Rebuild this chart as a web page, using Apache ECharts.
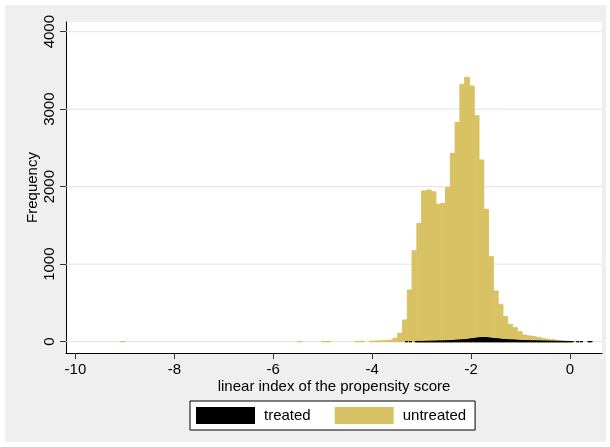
<!DOCTYPE html>
<html><head><meta charset="utf-8">
<script src="https://cdn.jsdelivr.net/npm/echarts@6/dist/echarts.min.js"></script>
<style>html,body{margin:0;padding:0;background:#fff}#c{width:610px;height:447px}</style>
</head><body><div id="c"></div>
<script>
// ---- data ----
const xTicks = [-10, -8, -6, -4, -2, 0];
const yTicks = [0, 1000, 2000, 3000, 4000];
const seriesNames = ['treated', 'untreated'];

// untreated histogram: first bin edge and bin width, counts per bin
const untreatedStart = -9.092;
const untreatedWidth = 0.0967;
const untreatedCounts = [
  3,
  0,0,0,0,0,0,0,0,0,0, 0,0,0,0,0,0,0,0,0,0, 0,0,0,0,0,0,0,0,0,0, 0,0,0,0,0,0,
  3, 0,0,0,0, 3,3, 0,0,0,0,0, 4,5, 0, 6,8,10,13,20,
  44,108,280,667,1174,1527,1945,1957,1935,1773,1785,1992,2430,2830,3321,3411,3299,2916,2345,1708,
  1097,654,482,323,224,181,129,86,74,65,52,38,30,25,15,10,6,3,
  2,0,0,0,0
];

// treated histogram
const treatedStart = -3.32;
const treatedWidth = 0.038;
const treatedCounts = [
  1,0,1,0,0,1,2,1,2,2,
  3,3,4,4,5,5,6,7,7,8,9,10,11,12,13,14,16,17,19,21,23,25,28,31,34,
  37,40,44,47,50,52,54,52,49,46,
  43,40,37,35,32,30,28,26,25,23,22,20,19,18,16,15,
  14,13,12,12,11,10,9,9,8,8,7,7,6,6,5,5,4,4,3,3,3,2,2,2,
  1,1,1,1,0,0,1,0,1,0,0,0,1,1,0
];

// ---- chart ----
const FONT = 'Liberation Sans, Arial, sans-serif';
const YELLOW = '#d8c264';

function binData(start, width, counts) {
  const out = [];
  counts.forEach((c, i) => { if (c > 0) out.push([start + i * width, start + (i + 1) * width, c]); });
  return out;
}

function barRenderer(fill, strokeW) {
  return function (params, api) {
    const p0 = api.coord([api.value(0), api.value(2)]);
    const p1 = api.coord([api.value(1), 0]);
    return {
      type: 'rect',
      shape: { x: p0[0], y: p0[1], width: p1[0] - p0[0], height: p1[1] - p0[1] },
      style: { fill: fill, stroke: fill, lineWidth: strokeW }
    };
  };
}

const chart = echarts.init(document.getElementById('c'), null, { renderer: 'canvas' });
chart.setOption({
  animation: false,
  backgroundColor: '#ffffff',
  textStyle: { fontFamily: FONT },
  graphic: [{
    type: 'rect', z: -10, silent: true,
    shape: { x: 5, y: 5, width: 601, height: 437 },
    style: { fill: '#efefef' }
  }],
  grid: {
    left: 66, top: 22, right: 8, bottom: 94,
    show: true, backgroundColor: '#ffffff', borderWidth: 0
  },
  legend: {
    data: seriesNames,
    left: 190, top: 401,
    itemWidth: 59, itemHeight: 17, itemGap: 24,
    padding: [6, 9, 6, 6],
    backgroundColor: '#ffffff', borderColor: '#000000', borderWidth: 1, borderRadius: 0,
    icon: 'rect',
    textStyle: { fontSize: 15, color: '#000', fontFamily: FONT, padding: [0, 0, 0, 4] }
  },
  xAxis: {
    type: 'value', min: -10.19, max: 0.647,
    name: 'linear index of the propensity score',
    nameLocation: 'middle', nameGap: 26, nameMoveOverlap: false,
    nameTextStyle: { fontSize: 15, color: '#000', fontFamily: FONT },
    axisLine: { show: true, onZero: false, lineStyle: { color: '#000', width: 1 } },
    axisTick: { show: true, length: 6, customValues: xTicks, lineStyle: { color: '#333' } },
    axisLabel: { customValues: xTicks, margin: 9, fontSize: 15, color: '#000', fontFamily: FONT,
      formatter: v => String(v) },
    splitLine: { show: false }
  },
  yAxis: {
    type: 'value', min: -146, max: 4125,
    name: 'Frequency',
    nameLocation: 'middle', nameGap: 26, nameRotate: 90, nameMoveOverlap: false,
    nameTextStyle: { fontSize: 15, color: '#000', fontFamily: FONT },
    axisLine: { show: true, onZero: false, lineStyle: { color: '#000', width: 1 } },
    axisTick: { show: true, length: 6, customValues: yTicks, lineStyle: { color: '#333' } },
    axisLabel: { customValues: yTicks, rotate: 90, margin: 9, fontSize: 15, color: '#000', fontFamily: FONT,
      formatter: v => String(v) },
    splitLine: { show: false }
  },
  series: [
    {
      name: 'grid', type: 'custom', z: 1, silent: true,
      data: yTicks,
      renderItem: function (params, api) {
        const cs = params.coordSys;
        const y = api.coord([0, api.value(0)])[1];
        return { type: 'line', shape: { x1: cs.x, y1: y, x2: cs.x + cs.width, y2: y },
          style: { stroke: '#e4e4e4', lineWidth: 1 } };
      }
    },
    {
      name: 'untreated', type: 'custom', z: 2,
      itemStyle: { color: YELLOW },
      data: binData(untreatedStart, untreatedWidth, untreatedCounts),
      renderItem: barRenderer(YELLOW, 1)
    },
    {
      name: 'treated', type: 'custom', z: 3,
      itemStyle: { color: '#000000' },
      data: binData(treatedStart, treatedWidth, treatedCounts),
      renderItem: barRenderer('#000000', 1.2)
    }
  ]
});
</script>
</body></html>
